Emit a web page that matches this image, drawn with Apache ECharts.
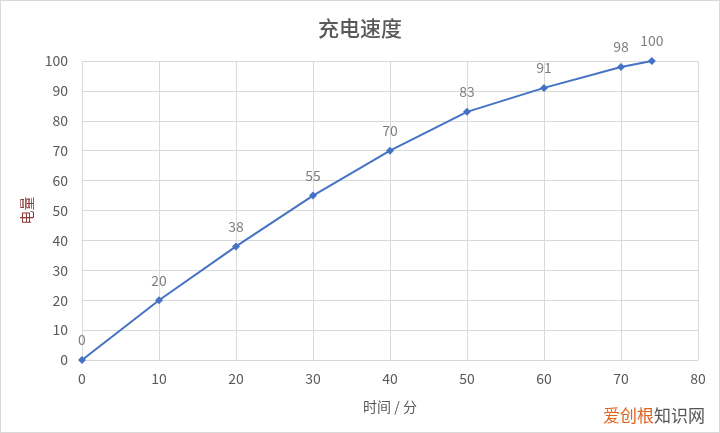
<!DOCTYPE html>
<html>
<head>
<meta charset="utf-8">
<script src="https://cdn.jsdelivr.net/npm/echarts@6/dist/echarts.min.js"></script>
<style>
html,body{margin:0;padding:0;background:#fff;}
#main{width:718px;height:431px;border:1px solid #d9d9d9;}
</style>
</head>
<body>
<div id="main"></div>
<script>
var xValues = [0, 10, 20, 30, 40, 50, 60, 70, 74];
var yValues = [0, 20, 38, 55, 70, 83, 91, 98, 100];

var points = [];
for (var i = 0; i < xValues.length; i++) {
	points.push([xValues[i], yValues[i]]);
}

var font = '"Noto Sans CJK SC", sans-serif';
var myChart = echarts.init(document.getElementById("main"));
myChart.setOption({
	animation: false,
	title: {
		text: '充电速度',
		left: 'center',
		top: 12,
		textStyle: {color: '#595959', fontSize: 21, fontWeight: 500, fontFamily: font}
	},
	grid: {left: 81, right: 21, top: 60, bottom: 72},
	xAxis: {
		type: 'value',
		min: 0,
		max: 80,
		interval: 10,
		name: '时间 / 分',
		nameLocation: 'middle',
		nameGap: 40,
		nameTextStyle: {color: '#595959', fontSize: 14, fontFamily: font},
		axisLine: {show: true, lineStyle: {color: '#d9d9d9'}},
		axisTick: {show: false},
		axisLabel: {color: '#595959', fontSize: 14, margin: 12, fontFamily: font},
		splitLine: {show: true, lineStyle: {color: '#d9d9d9'}}
	},
	yAxis: {
		type: 'value',
		min: 0,
		max: 100,
		interval: 10,
		name: '电量',
		nameLocation: 'middle',
		nameGap: 46,
		nameTextStyle: {color: '#8b3a3a', fontSize: 14, fontFamily: font},
		axisLine: {show: false},
		axisTick: {show: false},
		axisLabel: {color: '#595959', fontSize: 14, margin: 14, fontFamily: font},
		splitLine: {show: true, lineStyle: {color: '#d9d9d9'}}
	},
	graphic: [{
		type: 'text',
		right: 14,
		bottom: 8,
		style: {
			text: '{a|爱创根}{b|知识网}',
			rich: {
				a: {fill: '#e0631e', fontSize: 17, fontFamily: font},
				b: {fill: '#555', fontSize: 17, fontFamily: font}
			}
		}
	}],
	series: [{
		type: 'line',
		data: points,
		symbol: 'diamond',
		symbolSize: 8,
		lineStyle: {color: '#4472c4', width: 2},
		itemStyle: {color: '#4472c4'},
		label: {show: true, position: 'top', distance: 9, color: '#7f7f7f', fontSize: 14, fontFamily: font,
			formatter: function(p) { return p.value[1]; }}
	}]
});
</script>
</body>
</html>
